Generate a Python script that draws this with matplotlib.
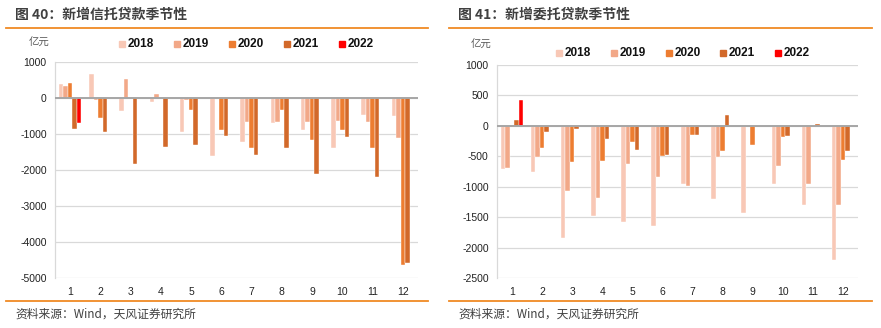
import matplotlib
matplotlib.use("Agg")
import matplotlib.pyplot as plt
from matplotlib.patches import Rectangle
from matplotlib.lines import Line2D
import numpy as np

plt.rcParams['font.family'] = ['Noto Sans CJK SC', 'DejaVu Sans']

months = [str(m) for m in range(1, 13)]
years = ["2018", "2019", "2020", "2021", "2022"]
colors = ["#F8C8B6", "#F2A888", "#ED7D31", "#D2692A", "#FF0000"]

# 新增信托贷款 (亿元)
trust_2018 = [380, 660, -360, -110, -950, -1600, -1220, -690, -900, -1380, -460, -490]
trust_2019 = [330, -45, 520, 120, -65, -10, -675, -655, -675, -630, -675, -1100]
trust_2020 = [415, -545, -20, 0, -340, -880, -1380, -320, -1175, -880, -1385, -4640]
trust_2021 = [-850, -940, -1820, -1360, -1310, -1055, -1570, -1380, -2105, -1070, -2190, -4565]
trust_2022 = [-690]

# 新增委托贷款 (亿元)
entr_2018 = [-705, -750, -1845, -1480, -1570, -1635, -945, -1200, -1430, -945, -1305, -2200]
entr_2019 = [-695, -505, -1060, -1190, -630, -830, -985, -510, -15, -665, -955, -1305]
entr_2020 = [-25, -355, -585, -575, -270, -485, -150, -410, -315, -175, -25, -560]
entr_2021 = [90, -95, -45, -215, -400, -475, -150, 175, -25, -165, 35, -410]
entr_2022 = [425]

W, H = 881, 328
fig = plt.figure(figsize=(W / 100, H / 100), dpi=100)


def px_axes(x0, y0, x1, y1):
    return fig.add_axes([x0 / W, 1 - y1 / H, (x1 - x0) / W, (y1 - y0) / H])


def draw_bars(ax, series, ylim, yticks):
    x = np.arange(len(months))
    w = 0.15
    for i, (vals, c) in enumerate(zip(series, colors)):
        xs = x[:len(vals)] + (i - 2) * w
        ax.bar(xs, vals, width=w, color=c, edgecolor="white", linewidth=0.3, zorder=3)
    ax.set_xlim(-0.5, 11.5)
    ax.set_ylim(*ylim)
    ax.set_yticks(yticks)
    ax.set_yticklabels([str(t) for t in yticks], family=["Liberation Sans"], fontsize=7.5, color="#222222")
    ax.set_xticks(x)
    ax.set_xticklabels(months, family=["Liberation Sans"], fontsize=7.5, color="#222222")
    ax.tick_params(length=0, pad=6)
    ax.grid(axis="y", color="#D9D9D9", linewidth=0.9, zorder=0)
    ax.axhline(0, color="#A6A6A6", linewidth=1.4, zorder=4)
    for s in ["top", "right", "bottom"]:
        ax.spines[s].set_visible(False)
    ax.spines["left"].set_color("#D9D9D9")
    ax.spines["left"].set_linewidth(0.9)


ax1 = px_axes(55, 62, 418, 278.3)
draw_bars(ax1, [trust_2018, trust_2019, trust_2020, trust_2021, trust_2022],
          (-5000, 1000), list(range(-5000, 1001, 1000)))

ax2 = px_axes(497, 65, 858, 278.3)
draw_bars(ax2, [entr_2018, entr_2019, entr_2020, entr_2021, entr_2022],
          (-2500, 1000), list(range(-2500, 1001, 500)))


def legend_row(x_list, y):
    for xl, yr, c in zip(x_list, years, colors):
        fig.add_artist(Rectangle((xl / W, 1 - (y + 3) / H), 6 / W, 6 / H,
                                 transform=fig.transFigure, color=c))
        fig.text((xl + 9) / W, 1 - y / H, yr, fontsize=8.5, fontweight="bold",
                 family=["Liberation Sans"], va="center", ha="left", color="#111111")


legend_row([119, 174, 229, 284, 339], 44)
legend_row([556, 611, 666, 720, 775], 53)

# titles, units, source, orange rules
for x0, x1, title, unit_x, unit_y in [(6, 428, "图 40：新增信托贷款季节性", 39, 43),
                                      (449, 872, "图 41：新增委托贷款季节性", 481, 45)]:
    fig.text((x0 + 9) / W, 1 - 15 / H, title, fontsize=10, fontweight="bold",
             color="#404040", va="center", ha="left")
    fig.add_artist(Line2D([x0 / W, x1 / W], [1 - 28 / H, 1 - 28 / H],
                          transform=fig.transFigure, color="#F08A24", linewidth=1.3))
    fig.add_artist(Line2D([x0 / W, x1 / W], [1 - 300.7 / H, 1 - 300.7 / H],
                          transform=fig.transFigure, color="#F08A24", linewidth=1.3))
    fig.text(unit_x / W, 1 - unit_y / H, "亿元", fontsize=7.5, color="#595959",
             va="center", ha="center")
    fig.text((x0 + 9) / W, 1 - 314 / H, "资料来源：Wind，天风证券研究所", fontsize=8.5,
             color="#404040", va="center", ha="left")

fig.savefig("out.png", dpi=100)
